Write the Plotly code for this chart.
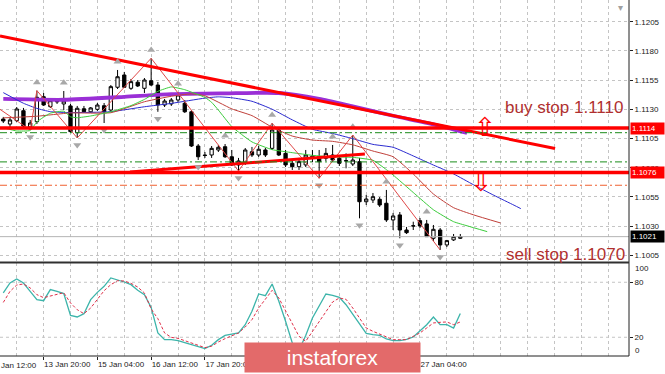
import plotly.graph_objects as go

# ---------------- data (EURUSD H4, bar 0 = 10 Jan 20:00) ----------------
bars = list(range(69))
opens = [1.11217, 1.11174, 1.11203, 1.11288, 1.11149, 1.11194, 1.11408, 1.11323, 1.11367, 1.11346,
         1.11329, 1.11100, 1.11305, 1.11279, 1.11300, 1.11331, 1.11294, 1.11489, 1.11594, 1.11480,
         1.11532, 1.11480, 1.11545, 1.11508, 1.11337, 1.11346, 1.11380, 1.11352, 1.11279, 1.10986,
         1.10909, 1.10909, 1.10952, 1.10980, 1.10894, 1.10824, 1.10838, 1.10937, 1.10909, 1.10952,
         1.10966, 1.11123, 1.10923, 1.10838, 1.10809, 1.10824, 1.10884, 1.10894, 1.10881, 1.10909,
         1.10881, 1.10858, 1.10832, 1.10852, 1.10509, 1.10524, 1.10530, 1.10496, 1.10353, 1.10396,
         1.10267, 1.10301, 1.10347, 1.10319, 1.10196, 1.10267, 1.10139, 1.10182, 1.10196]
highs = [1.11235, 1.11226, 1.11320, 1.11312, 1.11209, 1.11460, 1.11440, 1.11397, 1.11389, 1.11457,
         1.11346, 1.11329, 1.11329, 1.11320, 1.11354, 1.11354, 1.11508, 1.11637, 1.11620, 1.11560,
         1.11551, 1.11568, 1.11737, 1.11534, 1.11389, 1.11397, 1.11448, 1.11380, 1.11294, 1.11003,
         1.10935, 1.10986, 1.10995, 1.11003, 1.10952, 1.10884, 1.10969, 1.10978, 1.10986, 1.10969,
         1.11181, 1.11140, 1.10952, 1.10866, 1.10884, 1.10952, 1.10952, 1.10952, 1.10969, 1.10995,
         1.10909, 1.10923, 1.11080, 1.10884, 1.10567, 1.10584, 1.10549, 1.10610, 1.10413, 1.10421,
         1.10293, 1.10338, 1.10370, 1.10353, 1.10310, 1.10284, 1.10182, 1.10233, 1.10233]
lows = [1.11183, 1.11149, 1.11192, 1.11149, 1.11123, 1.11174, 1.11329, 1.11312, 1.11346, 1.11294,
        1.11098, 1.11055, 1.11269, 1.11269, 1.11286, 1.11183, 1.11277, 1.11474, 1.11483, 1.11466,
        1.11491, 1.11440, 1.11500, 1.11279, 1.11320, 1.11329, 1.11363, 1.11269, 1.10978, 1.10866,
        1.10884, 1.10884, 1.10935, 1.10884, 1.10815, 1.10772, 1.10824, 1.10892, 1.10892, 1.10892,
        1.10952, 1.10900, 1.10806, 1.10781, 1.10781, 1.10806, 1.10849, 1.10710, 1.10858, 1.10849,
        1.10815, 1.10795, 1.10815, 1.10367, 1.10481, 1.10498, 1.10464, 1.10336, 1.10267, 1.10196,
        1.10233, 1.10267, 1.10284, 1.10207, 1.10173, 1.10096, 1.10121, 1.10173, 1.10190]
closes = [1.11200, 1.11209, 1.11303, 1.11157, 1.11183, 1.11403, 1.11337, 1.11374, 1.11365, 1.11371,
          1.11109, 1.11309, 1.11279, 1.11312, 1.11337, 1.11279, 1.11494, 1.11579, 1.11489, 1.11537,
          1.11500, 1.11551, 1.11508, 1.11337, 1.11371, 1.11380, 1.11423, 1.11279, 1.10986, 1.10894,
          1.10905, 1.10966, 1.10975, 1.10894, 1.10824, 1.10858, 1.10952, 1.10909, 1.10958, 1.10909,
          1.11123, 1.10909, 1.10824, 1.10809, 1.10852, 1.10909, 1.10900, 1.10852, 1.10923, 1.10866,
          1.10838, 1.10860, 1.10866, 1.10509, 1.10532, 1.10552, 1.10481, 1.10353, 1.10387, 1.10267,
          1.10244, 1.10303, 1.10301, 1.10210, 1.10273, 1.10139, 1.10176, 1.10210, 1.10211]

# Alligator lines (shifted forward)
jaw_idx = [0, 3, 5, 7, 10, 16, 21, 25, 30, 32, 34, 37, 40, 43, 46, 49, 52, 55, 58, 61, 64, 67, 70, 73, 76, 77]
jaw_val = [1.11443, 1.11352, 1.11308, 1.11280, 1.11272, 1.11280, 1.11322, 1.11351, 1.11396, 1.11407,
           1.11399, 1.11369, 1.11301, 1.11210, 1.11129, 1.11093, 1.11049, 1.11000, 1.10975, 1.10901,
           1.10823, 1.10747, 1.10653, 1.10564, 1.10479, 1.10450]
teeth_idx = [0, 5, 10, 16, 21, 25, 28, 30, 34, 37, 40, 43, 46, 49, 52, 55, 58, 61, 64, 67, 70, 74]
teeth_val = [1.11227, 1.11241, 1.11269, 1.11271, 1.11365, 1.11412, 1.11432, 1.11416, 1.11304, 1.11246,
             1.11147, 1.11071, 1.11037, 1.11026, 1.10996, 1.10943, 1.10894, 1.10747, 1.10575, 1.10458,
             1.10396, 1.10327]
lips_idx = [0, 2, 4, 5, 7, 9, 10, 11, 13, 16, 19, 21, 23, 25, 27, 30, 31, 32, 34, 37, 40, 43, 46, 49,
            52, 55, 57, 58, 61, 64, 67, 69, 72]
lips_val = [1.11142, 1.11115, 1.11119, 1.11193, 1.11267, 1.11284, 1.11236, 1.11228, 1.11243, 1.11279,
            1.11332, 1.11385, 1.11454, 1.11492, 1.11468, 1.11402, 1.11360, 1.11294, 1.11152, 1.11021,
            1.10955, 1.10929, 1.10906, 1.10893, 1.10889, 1.10864, 1.10784, 1.10738, 1.10588, 1.10440,
            1.10338, 1.10303, 1.10253]
# slow moving average (purple)
ma_idx = [0, 9, 18, 25, 33, 41, 47, 52, 58, 64, 69]
ma_val = [1.11389, 1.11382, 1.11407, 1.11430, 1.11437, 1.11440, 1.11390, 1.11325, 1.11245, 1.11172, 1.11099]
# zigzag
zz_idx = [-1, 4, 5, 11, 22, 35, 40, 47, 52, 65]
zz_val = [1.11320, 1.11123, 1.11460, 1.11055, 1.11737, 1.10772, 1.11181, 1.10710, 1.11080, 1.10096]
# fractals
fr_up_idx = [5, 9, 17, 22, 26, 33, 40, 49, 52, 57, 63]
fr_dn_idx = [4, 11, 15, 23, 29, 35, 47, 53, 59, 65]
# trend lines (bar index, price)
trend_down_idx = [-0.49, 82.1]
trend_down_val = [1.11928, 1.10965]
trend_up_idx = [18.85, 53.8]
trend_up_val = [1.10764, 1.10918]
# horizontal levels
red_levels = [1.1114, 1.1076]
green_levels = [1.1110, 1.1085]
orange_levels = [1.1065]
last_price = 1.1021
# arrows
buy_arrow = (71.7, 1.11149)
sell_arrow = (71.1, 1.10678)

# stochastic
stoch_k = [68.4, 79.2, 83.6, 79.2, 70.1, 61.0, 59.9, 72.0, 70.1, 67.6,
           43.9, 42.1, 45.7, 61.0, 69.0, 75.6, 84.7, 82.9, 80.3, 77.4,
           71.2, 66.5, 52.6, 24.7, 17.4, 17.4, 16.3, 14.2, 12.0, 9.8,
           7.6, 11.3, 17.4, 22.1, 23.6, 24.7, 33.7, 48.3, 67.2, 65.4,
           78.1, 59.2, 37.4, 13.8, 6.0, 22.0, 41.0, 53.7, 67.2, 65.7,
           63.5, 55.5, 45.3, 33.7, 24.3, 22.8, 22.1, 18.1, 16.3, 16.3,
           17.8, 20.3, 26.5, 33.7, 42.1, 33.7, 33.7, 30.1, 46.0]
stoch_d = [58.0, 70.1, 77.0, 78.1, 73.8, 66.5, 63.2, 64.6, 66.8, 68.6,
           57.4, 50.1, 45.7, 51.9, 61.7, 70.8, 77.4, 81.7, 81.4, 78.8,
           74.8, 68.3, 50.8, 40.3, 24.7, 19.9, 18.8, 16.3, 13.4, 11.3,
           8.7, 10.2, 14.9, 18.5, 21.4, 24.7, 31.2, 39.2, 51.9, 61.0,
           71.2, 62.8, 48.3, 33.7, 21.0, 15.6, 26.5, 37.4, 49.0, 58.5,
           62.8, 61.4, 51.9, 41.0, 30.1, 26.5, 23.6, 20.7, 17.4, 17.4,
           17.4, 21.0, 24.7, 30.1, 35.6, 36.3, 36.7, 33.7, 36.7]
stoch_levels = [20, 80]

# axes / labels
time_tick_idx = [6, 14, 22, 30, 38, 46, 54, 62]
time_tick_text = ["13 Jan 20:00", "15 Jan 04:00", "16 Jan 12:00", "17 Jan 20:00",
                  "21 Jan 04:00", "22 Jan 12:00", "23 Jan 20:00", "27 Jan 04:00"]
first_time_text = "10 Jan 12:00"
grid_idx = list(range(2, 94, 4))
price_ticks = [1.1005, 1.1030, 1.1055, 1.1080, 1.1105, 1.1130, 1.1155, 1.1180, 1.1205]

# ---------------- figure ----------------
FONT = "Liberation Sans"
GRID = "#c4c4c4"
fig = go.Figure()

fig.add_trace(go.Candlestick(
    x=bars, open=opens, high=highs, low=lows, close=closes, xaxis="x", yaxis="y",
    increasing=dict(line=dict(color="black", width=1), fillcolor="white"),
    decreasing=dict(line=dict(color="black", width=1), fillcolor="black"),
    whiskerwidth=0, hoverinfo="skip"))

fig.add_trace(go.Scatter(x=ma_idx, y=ma_val, mode="lines", line=dict(color="#9a2fd6", width=3.8, shape="spline", smoothing=0.6)))
fig.add_trace(go.Scatter(x=jaw_idx, y=jaw_val, mode="lines", line=dict(color="#2b2bd0", width=1, shape="spline", smoothing=0.5)))
fig.add_trace(go.Scatter(x=teeth_idx, y=teeth_val, mode="lines", line=dict(color="#c0403a", width=1, shape="spline", smoothing=0.5)))
fig.add_trace(go.Scatter(x=lips_idx, y=lips_val, mode="lines", line=dict(color="#3ccc3c", width=1, shape="spline", smoothing=0.4)))
fig.add_trace(go.Scatter(x=zz_idx, y=zz_val, mode="lines", line=dict(color="#e04848", width=1)))
fig.add_trace(go.Scatter(x=trend_down_idx, y=trend_down_val, mode="lines", line=dict(color="#ff0000", width=3)))
fig.add_trace(go.Scatter(x=trend_up_idx, y=trend_up_val, mode="lines", line=dict(color="#ff0000", width=3)))

up_off = 0.0007
dn_off = 0.0006
fig.add_trace(go.Scatter(x=fr_up_idx, y=[highs[i] + up_off for i in fr_up_idx], mode="markers",
                         marker=dict(symbol="triangle-up", size=7, color="#a8a8a8", line=dict(width=0))))
fig.add_trace(go.Scatter(x=fr_dn_idx, y=[lows[i] - dn_off for i in fr_dn_idx], mode="markers",
                         marker=dict(symbol="triangle-down", size=7, color="#a8a8a8", line=dict(width=0))))

fig.add_trace(go.Scatter(x=bars, y=stoch_k, xaxis="x2", yaxis="y2", mode="lines",
                         line=dict(color="#3cb4aa", width=1.3)))
fig.add_trace(go.Scatter(x=bars, y=stoch_d, xaxis="x2", yaxis="y2", mode="lines",
                         line=dict(color="#e0304a", width=1, dash="3px,2px")))

# horizontal levels
for lv in green_levels:
    fig.add_shape(type="line", xref="paper", x0=0, x1=1, yref="y", y0=lv, y1=lv,
                  line=dict(color="#1a8c1a", width=1, dash="7px,3px,2px,3px"))
for lv in orange_levels:
    fig.add_shape(type="line", xref="paper", x0=0, x1=1, yref="y", y0=lv, y1=lv,
                  line=dict(color="#f06030", width=1, dash="7px,3px,2px,3px"))
fig.add_shape(type="line", xref="paper", x0=0, x1=1, yref="y", y0=last_price, y1=last_price,
              line=dict(color="#b4b4b4", width=1))
for lv in red_levels:
    fig.add_shape(type="line", xref="paper", x0=0, x1=1, yref="y", y0=lv, y1=lv,
                  line=dict(color="#ff0000", width=3.5))
for lv in stoch_levels:
    fig.add_shape(type="line", xref="paper", x0=0, x1=1, yref="y2", y0=lv, y1=lv,
                  line=dict(color=GRID, width=1, dash="3px,3px"), layer="below")

# frame
fig.add_shape(type="line", xref="paper", yref="paper", x0=1, x1=1, y0=0, y1=1, line=dict(color="#202020", width=1))
fig.add_shape(type="line", xref="paper", yref="paper", x0=0, x1=1, y0=0, y1=0, line=dict(color="#202020", width=1))
fig.add_shape(type="line", xref="paper", yref="paper", x0=0, x1=1, y0=0.2626, y1=0.2626, line=dict(color="#303030", width=2))

ann = []
# price boxes on the right axis
for val, bg in [(red_levels[0], "#ff0000"), (red_levels[1], "#ff0000"), (last_price, "#000000")]:
    ann.append(dict(xref="paper", x=1, xanchor="left", xshift=1, yref="y", y=val, yanchor="middle",
                    text=f"{val:.4f}", showarrow=False, bgcolor=bg, borderpad=1, width=31, align="left",
                    font=dict(family=FONT, size=8, color="white")))
# stochastic 0/100 labels
ann.append(dict(xref="paper", x=1, xanchor="left", xshift=4, yref="y2", y=94.5, text="100", showarrow=False,
                font=dict(family=FONT, size=8, color="#222")))
ann.append(dict(xref="paper", x=1, xanchor="left", xshift=4, yref="y2", y=6.1, text="0", showarrow=False,
                font=dict(family=FONT, size=8, color="#222")))
# first time label (its bar lies left of the visible range, so it is cut by the edge)
ann.append(dict(xref="paper", x=0, xanchor="left", xshift=-12, yref="paper", y=0, yanchor="top",
                yshift=-3, text=first_time_text, showarrow=False, font=dict(family=FONT, size=8, color="#222")))
# chart-shift marker
ann.append(dict(xref="paper", x=625 / 629, yref="paper", y=1, yanchor="top", text="▾", showarrow=False,
                font=dict(family="DejaVu Sans", size=10, color="#a0a0a0")))
# order texts
ann.append(dict(xref="paper", x=625 / 629, xanchor="right", yref="y", y=1.11312, yanchor="middle",
                text="buy stop 1.1110", showarrow=False, font=dict(family=FONT, size=17, color="#b0302f")))
ann.append(dict(xref="paper", x=627 / 629, xanchor="right", yref="y", y=1.10053, yanchor="middle",
                text="sell stop 1.1070", showarrow=False, font=dict(family=FONT, size=17, color="#b0302f")))
# arrows
ann.append(dict(xref="x", x=buy_arrow[0], yref="y", y=buy_arrow[1], text="⇧", showarrow=False,
                font=dict(family="DejaVu Sans", size=26, color="#ff0000")))
ann.append(dict(xref="x", x=sell_arrow[0], yref="y", y=sell_arrow[1], text="⇩", showarrow=False,
                font=dict(family="DejaVu Sans", size=26, color="#ff0000")))
# watermark
ann.append(dict(xref="paper", x=332.5 / 629, xanchor="center", yref="paper", y=-0.0042, yanchor="middle",
                text="instaforex", showarrow=False, bgcolor="#e36a6a", width=175, height=29, borderpad=0,
                font=dict(family=FONT, size=21, color="white")))

fig.update_layout(
    width=665, height=374, margin=dict(l=0, r=36, t=0, b=18, autoexpand=False),
    paper_bgcolor="white", plot_bgcolor="white", showlegend=False, hovermode=False,
    annotations=ann,
    xaxis=dict(domain=[0, 1], anchor="y", range=[-0.49, 93.1], tickvals=grid_idx, showticklabels=False,
               ticks="", showgrid=True, gridcolor=GRID, griddash="3px,3px", gridwidth=1, zeroline=False,
               rangeslider=dict(visible=False), fixedrange=True, automargin=False),
    xaxis2=dict(domain=[0, 1], anchor="y2", range=[-0.49, 93.1], tickvals=time_tick_idx, ticktext=time_tick_text,
                ticks="outside", ticklen=3, tickcolor="#202020", ticklabelposition="outside right",
                tickangle=0, automargin=False,
                tickfont=dict(family=FONT, size=8, color="#222"), showgrid=True, gridcolor=GRID,
                griddash="3px,3px", zeroline=False,
                minor=dict(tickvals=[g for g in grid_idx if g not in time_tick_idx], showgrid=True,
                           gridcolor=GRID, griddash="3px,3px", ticks=""), fixedrange=True),
    yaxis=dict(domain=[0.26404, 1], anchor="x", side="right", range=[1.09993, 1.12236],
               tickvals=price_ticks, ticktext=[f"{p:.4f}" for p in price_ticks], ticks="outside", ticklen=3,
               tickcolor="#202020", tickfont=dict(family=FONT, size=8, color="#222"), showgrid=True,
               gridcolor=GRID, griddash="3px,3px", zeroline=False, fixedrange=True, automargin=False),
    yaxis2=dict(domain=[0, 0.2612], anchor="x2", side="right", range=[-0.44, 101.0],
                tickvals=stoch_levels, ticktext=[str(v) for v in stoch_levels], ticks="outside", ticklen=3,
                tickcolor="#202020", tickfont=dict(family=FONT, size=8, color="#222"), showgrid=False,
                zeroline=False, fixedrange=True, automargin=False),
)

fig.write_html("out.html", config={"displayModeBar": False},
               post_script="document.body.style.margin='0';document.body.style.overflow='hidden';")
